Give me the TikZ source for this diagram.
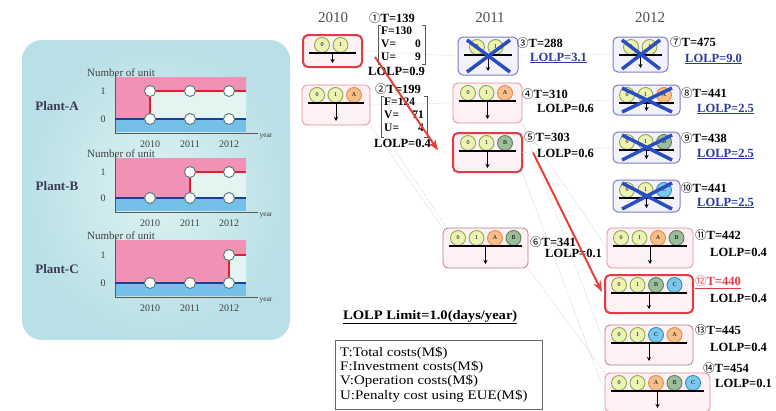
\documentclass[tikz,border=0pt]{standalone}
\usepackage{fontspec}
\setmainfont{Liberation Serif}
\newfontfamily\cjk{Noto Sans CJK SC}
\usetikzlibrary{calc,arrows.meta}
\definecolor{panelbg}{HTML}{B9E0E6}
\definecolor{panelin}{HTML}{DDF2F2}
\definecolor{pinkar}{HTML}{F091B5}
\definecolor{bluear}{HTML}{74C0E8}
\definecolor{gaparea}{HTML}{E4F4F0}
\definecolor{bline}{HTML}{1E3C9C}
\definecolor{rline}{HTML}{E0202C}
\definecolor{redb}{HTML}{E23A46}
\definecolor{pinkb}{HTML}{E58C9C}
\definecolor{mauveb}{HTML}{B87C90}
\definecolor{blueb}{HTML}{7C7CC8}
\definecolor{pfill}{HTML}{FDF1F3}
\definecolor{bfill}{HTML}{F3F2FB}
\definecolor{xblue}{HTML}{2A4EC2}
\definecolor{lolpblue}{HTML}{2A3A9C}
\definecolor{uf0}{HTML}{EEF2B4}\definecolor{ue0}{HTML}{8FA848}
\definecolor{uf1}{HTML}{EEF2B4}\definecolor{ue1}{HTML}{8FA848}
\definecolor{ufA}{HTML}{F6BE88}\definecolor{ueA}{HTML}{E88A48}
\definecolor{ufB}{HTML}{9CBC9C}\definecolor{ueB}{HTML}{5E7E64}
\definecolor{ufC}{HTML}{7CC8EC}\definecolor{ueC}{HTML}{2E8CC0}
\definecolor{txtgray}{HTML}{505050}
\definecolor{plantc}{HTML}{3A3A55}
\definecolor{redarr}{HTML}{E8403C}
\tikzset{
  box/.style={rounded corners=5pt, draw, line width=0.8pt, inner sep=0, outer sep=0},
  pbox/.style={box, draw=pinkb, fill=pfill},
  rbox/.style={box, draw=redb, fill=pfill, line width=2pt},
  bbox/.style={box, draw=blueb, fill=bfill, line width=1pt},
  mbox/.style={box, draw=mauveb, fill=pfill},
  unit/.style={circle, minimum size=15pt, inner sep=0, line width=0.9pt, font=\fontsize{6}{6}\selectfont},
  xc/.style={xblue, line width=3.5pt},
  pc/.style={circle, fill=white, draw=gray!70!teal, line width=1pt, minimum size=11pt, inner sep=0},
  lbl/.style={anchor=west, inner sep=0, font=\fontsize{12.5}{13}\selectfont\bfseries},
  fvu/.style={inner sep=0, font=\fontsize{11.5}{12}\selectfont\bfseries},
  faint/.style={densely dotted, line width=0.6pt, gray!40},
  redarrow/.style={draw=redarr, line width=2pt, -{Stealth[length=11pt,width=8pt]}},
  axisl/.style={draw=gray!70!black, line width=0.8pt},
  chtxt/.style={inner sep=0, text=black!75, font=\fontsize{10}{10}\selectfont},
}
\newcommand{\cn}[1]{{\cjk\mdseries\fontsize{11.5}{11.5}\selectfont #1}}
\newcommand{\mkbox}[8]{%
  \node[#6, minimum width={#4-#2}, minimum height={#5-#3}] (#1) at ({(#2+#4)/2},{(#3+#5)/2}) {};
  \foreach \t [count=\i] in {#8} {
    \node[unit, fill=uf\t, draw=ue\t] (#1u\i) at ({#2+#7+18.5*(\i-1)},{#3+10}) {\t};
  }
  \draw[line width=1.8pt] ({#2+6},{#3+18}) -- ({#4-6},{#3+18});
  \draw[line width=0.8pt, -{Stealth[length=4pt,width=4pt]}] ({(#2+#4)/2},{#3+18}) -- ({(#2+#4)/2},{#5-4});
}
\newcommand{\xcross}[1]{%
  \draw[xc] ($(#1.north west)+(9,3)$) -- ($(#1.south east)+(-8,-3)$);
  \draw[xc] ($(#1.north east)+(-8,3)$) -- ($(#1.south west)+(9,-3)$);
}
% #1 yT, #2 y1, #3 y0, #4 yax, #5 step x, #6 name
\newcommand{\plantchart}[6]{%
  \fill[pinkar] (115,#1) -- (246,#1) -- (246,#2) -- (#5,#2) -- (#5,#3) -- (115,#3) -- cycle;
  \fill[gaparea] (#5,#2) rectangle (246,#3);
  \fill[bluear] (115,#3) rectangle (246,{#4-1});
  \draw[axisl] (115,{#1-3}) -- (115,#4) -- (258,#4);
  \draw[bline, line width=2.6pt] (115,#3) -- (246,#3);
  \draw[rline, line width=2.2pt] (#5,#3) -- (#5,#2) -- (246,#2);
  \node[chtxt, anchor=west, font=\fontsize{11}{11}\selectfont] (#6n) at (87,{#1-4.5}) {Number of unit};
  \node[chtxt] (#6one) at (103,#2) {1};
  \node[chtxt] (#6zero) at (103,#3) {0};
  \node[chtxt] (#6ya) at (150,{#4+11}) {2010};
  \node[chtxt] (#6yb) at (190,{#4+11}) {2011};
  \node[chtxt] (#6yc) at (229,{#4+11}) {2012};
  \node[chtxt, font=\fontsize{7.5}{7.5}\selectfont] (#6yr) at (266,{#4+4}) {year};
  \node[pc] (#6c0a) at (150,#3) {};
  \node[pc] (#6c0b) at (190,#3) {};
  \node[pc] (#6c0c) at (229,#3) {};
}
\begin{document}
\begin{tikzpicture}[x=1pt,y=-1pt]
\useasboundingbox (0,0) rectangle (776,410);
\fill[white] (0,0) rectangle (776,410);
% ---------- left panel
\shade[rounded corners=20pt, inner color=panelin, outer color=panelbg] (22,40) rectangle (290,340);
\node[inner sep=0, text=plantc, font=\fontsize{13}{13}\selectfont\bfseries] (plA) at (57,106) {Plant-A};
\node[inner sep=0, text=plantc, font=\fontsize{13}{13}\selectfont\bfseries] (plB) at (57,186) {Plant-B};
\node[inner sep=0, text=plantc, font=\fontsize{13}{13}\selectfont\bfseries] (plC) at (57,269) {Plant-C};
\plantchart{77}{91}{119}{133}{150}{pa}
\node[pc] (pa1a) at (150,91) {};
\node[pc] (pa1b) at (190,91) {};
\node[pc] (pa1c) at (229,91) {};
\plantchart{158}{172}{198}{212}{190}{pb}
\node[pc] (pb1b) at (190,172) {};
\node[pc] (pb1c) at (229,172) {};
\plantchart{240}{255}{283}{297}{229}{pc}
\node[pc] (pc1c) at (229,255) {};
% ---------- year labels
\node[inner sep=0, text=txtgray, font=\fontsize{15}{15}\selectfont] (y10) at (333,18) {2010};
\node[inner sep=0, text=txtgray, font=\fontsize{15}{15}\selectfont] (y11) at (490,18) {2011};
\node[inner sep=0, text=txtgray, font=\fontsize{15}{15}\selectfont] (y12) at (650,18) {2012};
% ---------- boxes
\mkbox{b1}{303}{35}{362}{67}{rbox}{19}{0,1}
\mkbox{b2}{302}{85}{370}{125}{pbox}{15}{0,1,A}
\mkbox{b3}{458}{37}{518}{75}{bbox}{19}{0,1}
\mkbox{b4}{453}{83}{522}{123}{pbox}{15}{0,1,A}
\mkbox{b5}{453}{133}{522}{172}{rbox}{15}{0,1,B}
\mkbox{b6}{443}{228}{528}{268}{mbox}{15}{0,1,A,B}
\mkbox{b7}{613}{37}{668}{72}{bbox}{18}{0,1}
\mkbox{b8}{613}{85}{680}{115}{bbox}{14}{0,1,A}
\mkbox{b9}{613}{132}{680}{163}{bbox}{14}{0,1,B}
\mkbox{b10}{613}{180}{680}{212}{bbox}{14}{0,1,C}
\mkbox{b11}{607}{228}{693}{268}{pbox}{14}{0,1,A,B}
\mkbox{b12}{605}{275}{693}{313}{rbox}{14}{0,1,B,C}
\mkbox{b13}{605}{325}{693}{365}{mbox}{14}{0,1,C,A}
\mkbox{b14}{605}{373}{710}{412}{pbox}{14}{0,1,A,B,C}
\xcross{b3}\xcross{b7}\xcross{b8}\xcross{b9}\xcross{b10}
% ---------- faint connectors
\draw[faint] (b2.south east) -- (b6.north west);
\draw[faint] ($(b2.south east)+(8,0)$) -- ($(b6.north west)+(4,0)$);
\draw[faint] (b1.east) -- (b3.west);
\draw[faint] (b2.east) -- (b4.west);
\draw[faint] (b4.south east) -- (b11.west);
\draw[faint] (b4.south east) -- (b13.west);
\draw[faint] (b5.south east) -- (b14.west);
\draw[faint] (b5.east) -- (b9.west);
\draw[faint] (b4.east) -- (b8.west);
\draw[faint] (b3.east) -- (b7.west);
\draw[faint] (b6.south east) -- (b14.north west);
% ---------- labels
\node[lbl] (t1) at (369,18) {\cn{①}T=139};
\draw[gray!70!black, line width=0.7pt] (381,25) -- (378,25) -- (378,64) -- (381,64);
\draw[gray!70!black, line width=0.7pt] (422,25) -- (425,25) -- (425,64) -- (422,64);
\node[fvu, anchor=west] (f1) at (381,31) {F=130};
\node[fvu, anchor=west] (v1) at (381,44) {V=};
\node[fvu, anchor=east] (v1n) at (421,44) {0};
\node[fvu, anchor=west] (u1) at (381,57) {U=};
\node[fvu, anchor=east] (u1n) at (421,57) {9};
\node[lbl] (l1) at (368,71) {LOLP=0.9};
\node[lbl] (t2) at (375,89) {\cn{②}T=199};
\draw[gray!70!black, line width=0.7pt] (384,96) -- (381,96) -- (381,137) -- (384,137);
\draw[gray!70!black, line width=0.7pt] (424,96) -- (427,96) -- (427,137) -- (424,137);
\node[fvu, anchor=west] (f2) at (384,102) {F=124};
\node[fvu, anchor=west] (v2) at (384,115) {V=};
\node[fvu, anchor=east] (v2n) at (424,115) {71};
\node[fvu, anchor=west] (u2) at (384,128) {U=};
\node[fvu, anchor=east] (u2n) at (424,128) {4};
\node[lbl] (l2) at (374,143) {LOLP=0.4};
\node[lbl] (t3) at (517,43) {\cn{③}T=288};
\node[lbl, text=lolpblue] (l3) at (530,58) {\underline{LOLP=3.1}};
\node[lbl] (t4) at (522,94) {\cn{④}T=310};
\node[lbl] (l4) at (537,108) {LOLP=0.6};
\node[lbl] (t5) at (524,137) {\cn{⑤}T=303};
\node[lbl] (l5) at (537,153) {LOLP=0.6};
\node[lbl] (t6) at (530,242) {\cn{⑥}T=341};
\node[lbl] (l6) at (545,253) {LOLP=0.1};
\node[lbl] (t7) at (670,42) {\cn{⑦}T=475};
\node[lbl, text=lolpblue] (l7) at (685,59) {\underline{LOLP=9.0}};
\node[lbl] (t8) at (681,93) {\cn{⑧}T=441};
\node[lbl, text=lolpblue] (l8) at (697,109) {\underline{LOLP=2.5}};
\node[lbl] (t9) at (681,138) {\cn{⑨}T=438};
\node[lbl, text=lolpblue] (l9) at (697,154) {\underline{LOLP=2.5}};
\node[lbl] (t10) at (681,188) {\cn{⑩}T=441};
\node[lbl, text=lolpblue] (l10) at (697,203) {\underline{LOLP=2.5}};
\node[lbl] (t11) at (695,235) {\cn{⑪}T=442};
\node[lbl] (l11) at (710,252) {LOLP=0.4};
\node[lbl, text=redb] (t12) at (695,282) {\underline{\cn{⑫}T=440}};
\node[lbl] (l12) at (710,298) {LOLP=0.4};
\node[lbl] (t13) at (695,330) {\cn{⑬}T=445};
\node[lbl] (l13) at (710,347) {LOLP=0.4};
\node[lbl] (t14) at (703,368) {\cn{⑭}T=454};
\node[lbl] (l14) at (715,383) {LOLP=0.1};
% ---------- red arrows
\draw[redarrow] ($(b1.east)+(13,6)$) -- ($(b5.west)+(-15,-2)$);
\draw[redarrow] ($(b5.east)+(11,0)$) -- ($(b12.west)+(-3,-2)$);
% ---------- limit and legend
\node[lbl, font=\fontsize{13}{13}\selectfont\bfseries] (lim) at (343,317) {\scalebox{1.12}[1]{\underline{LOLP Limit=1.0(days/year)}}};
\node[draw=gray!80!black, line width=0.8pt, minimum width=207, minimum height=69, anchor=north west, inner sep=0] (leg) at (335,340) {};
\node[anchor=west, inner sep=0, font=\fontsize{13}{13}\selectfont] (legT) at (340,353) {\scalebox{1.15}[1]{T:Total costs(M\$)}};
\node[anchor=west, inner sep=0, font=\fontsize{13}{13}\selectfont] (legF) at (340,367) {\scalebox{1.15}[1]{F:Investment costs(M\$)}};
\node[anchor=west, inner sep=0, font=\fontsize{13}{13}\selectfont] (legV) at (340,381) {\scalebox{1.15}[1]{V:Operation costs(M\$)}};
\node[anchor=west, inner sep=0, font=\fontsize{13}{13}\selectfont] (legU) at (340,396) {\scalebox{1.15}[1]{U:Penalty cost using EUE(M\$)}};
\end{tikzpicture}
\end{document}
